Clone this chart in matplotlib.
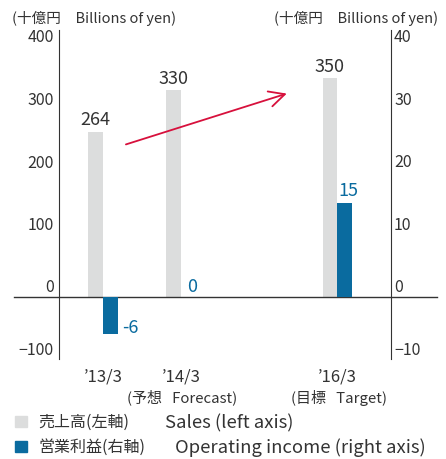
import matplotlib.pyplot as plt
from matplotlib.patches import Patch

plt.rcParams['font.family'] = ['Noto Sans CJK JP', 'DejaVu Sans']

# Data
years = [13, 14, 16]
year_labels = ["\u201913/3", "\u201914/3", "\u201916/3"]
sub_labels = ["(予想 Forecast)", "(目標 Target)"]
sub_years = [14, 16]
sales = [264, 330, 350]           # left axis
op_income = [-6, 0, 15]           # right axis
sales_labels = ["264", "330", "350"]
op_labels = ["-6", "0", "15"]
legend_jp = ["売上高(左軸)", "営業利益(右軸)"]
legend_en = ["Sales (left axis)", "Operating income (right axis)"]

# growth arrow (data coords, left axis)
arrow_start = (13.26, 242)
arrow_end = (15.39, 326)

GRAY = '#dcdddd'
BLUE = '#0a6b9f'
RED = '#d7103c'
TXT = '#333333'

fig = plt.figure(figsize=(4.46, 4.59), dpi=100)
W, H = 446, 459
ax = fig.add_axes([59 / W, 1 - 359 / H, 332 / W, 329 / H])
ax2 = ax.twinx()

bw = 0.186
ax.bar([y - bw / 2 for y in years], sales, width=bw, color=GRAY, zorder=2)
ax2.bar([y + bw / 2 for y in years], op_income, width=bw, color=BLUE, zorder=2)

ax.set_xlim(12.436, 16.692)
ax.set_ylim(-100, 426.4)
ax2.set_ylim(-10, 42.64)

# axes styling
for a in (ax, ax2):
    for s in a.spines.values():
        s.set_visible(False)
    a.set_xticks([])
ax.spines['left'].set_visible(True)
ax.spines['left'].set_color(TXT)
ax2.spines['right'].set_visible(True)
ax2.spines['right'].set_color(TXT)

ax.set_yticks([-100, 0, 100, 200, 300, 400])
ax2.set_yticks([-10, 0, 10, 20, 30, 40])
ax.tick_params(axis='y', length=0, pad=3.6, labelsize=11.5, labelcolor=TXT)
ax2.tick_params(axis='y', length=0, pad=2.2, labelsize=11.5, labelcolor=TXT)
for lab in ax.get_yticklabels() + ax2.get_yticklabels():
    lab.set_va('bottom')

# zero line running past both axes
ax.axhline(0, xmin=(14 - 59) / 332, xmax=(437 - 59) / 332, color=TXT, lw=1,
           clip_on=False, zorder=3)

# value labels
for x, v, t in zip(years, sales, sales_labels):
    ax.annotate(t, xy=(x - bw / 2, v), xytext=(0, 4.5), textcoords='offset points',
                ha='center', va='baseline', fontsize=13, color=TXT)
for x, v, t in zip(years, op_income, op_labels):
    if v >= 0:
        ax2.annotate(t, xy=(x + bw / 2, v), xytext=(3, 3 if v == 0 else 4.5),
                     textcoords='offset points', ha='center', va='baseline',
                     fontsize=13, color=BLUE)
    else:
        ax2.annotate(t, xy=(x + bw, v), xytext=(3, 4.5), textcoords='offset points',
                     ha='left', va='center', fontsize=13, color=BLUE)

# x category labels
for x, t in zip(years, year_labels):
    ax.annotate(t, xy=(x, 0), xycoords=('data', 'axes fraction'), xytext=(0, -6.5),
                textcoords='offset points', ha='center', va='top', fontsize=12, color=TXT)
for x, s in zip(sub_years, sub_labels):
    ax.annotate(s.replace(' ', '   '), xy=(x + 0.02, 0), xycoords=('data', 'axes fraction'),
                xytext=(0, -22), textcoords='offset points', ha='center', va='top',
                fontsize=10.8, color=TXT)

# growth arrow
ax.annotate('', xy=arrow_end, xytext=arrow_start,
            arrowprops=dict(arrowstyle='->', color=RED, lw=1.3, mutation_scale=28),
            zorder=4)

# unit headers
fig.text(12 / W, 1 - 18 / H, "(十億円　Billions of yen)", ha='left', va='center',
         fontsize=10.5, color=TXT)
fig.text(438 / W, 1 - 18 / H, "(十億円　Billions of yen)", ha='right', va='center',
         fontsize=10.5, color=TXT)

# legend: Japanese part in the legend, English part placed after it
handles = [Patch(color=GRAY), Patch(color=BLUE)]
leg = fig.legend(handles, legend_jp, loc='upper left', bbox_to_anchor=(15 / W, 1 - 414 / H),
                 frameon=False, fontsize=11.5, handlelength=0.75, handleheight=0.75,
                 handletextpad=0.7, labelspacing=0.5, borderaxespad=0, borderpad=0,
                 labelcolor=TXT)
fig.canvas.draw()
en_x = [165, 175]
for h, en, xpx in zip(leg.legend_handles, legend_en, en_x):
    bb = h.get_window_extent()
    fig.text(xpx / W, (bb.y0 - 1) / H, en, ha='left', va='baseline', fontsize=13.3, color=TXT)

fig.savefig('out.png', dpi=100)
